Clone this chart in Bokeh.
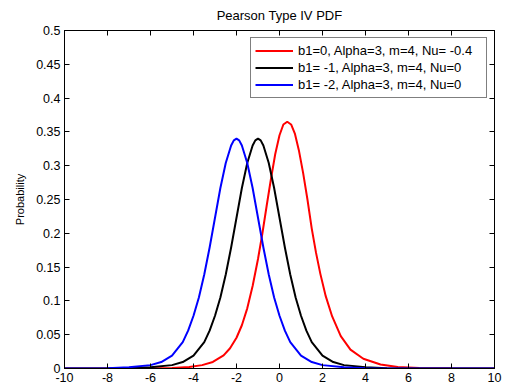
from bokeh.plotting import figure
from bokeh.models import (Range1d, FixedTicker, LinearAxis, Legend, LegendItem)
from bokeh.embed import file_html
from bokeh.resources import INLINE

# Pearson Type IV densities, sampled
red_x = [-10, -8, -6, -5, -4.2, -3.6, -3.1, -2.6, -2.3, -2.0, -1.75, -1.5, -1.25,
         -1.0, -0.8, -0.6, -0.4, -0.2, 0.0, 0.18, 0.36, 0.54, 0.72, 0.9, 1.1, 1.3,
         1.5, 1.7, 1.9, 2.15, 2.45, 2.85, 3.3, 3.9, 4.7, 5.5, 6.5, 8, 10]
red_y = [0.0, 0.0001, 0.0003, 0.0009, 0.0023, 0.005, 0.0097, 0.0195, 0.030, 0.0455,
         0.064, 0.089, 0.122, 0.162, 0.199, 0.240, 0.280, 0.317, 0.345, 0.361,
         0.365, 0.361, 0.347, 0.323, 0.289, 0.250, 0.207, 0.171, 0.140, 0.107,
         0.077, 0.048, 0.028, 0.0145, 0.006, 0.0022, 0.0008, 0.0002, 0.0]

black_x = [-10, -9, -7, -6, -5, -4.5, -4, -3.5, -3.25, -3, -2.75, -2.5, -2.25, -2,
           -1.75, -1.5, -1.25, -1.125, -1, -0.875, -0.75, -0.5, -0.25, 0, 0.25,
           0.5, 0.75, 1, 1.25, 1.5, 2, 2.5, 3, 4, 5, 7, 10]
black_y = [0.0, 0.0001, 0.0005, 0.0017, 0.005, 0.0095, 0.019, 0.039, 0.056, 0.078,
           0.105, 0.139, 0.179, 0.223, 0.267, 0.304, 0.330, 0.3375, 0.340, 0.3375,
           0.330, 0.304, 0.267, 0.223, 0.179, 0.139, 0.105, 0.078, 0.056, 0.039,
           0.019, 0.0095, 0.005, 0.0017, 0.0005, 0.0001, 0.0]

blue_x = [-10, -8, -7, -6, -5.5, -5, -4.5, -4.25, -4, -3.75, -3.5, -3.25, -3, -2.75,
          -2.5, -2.25, -2.125, -2, -1.875, -1.75, -1.5, -1.25, -1, -0.75, -0.5,
          -0.25, 0, 0.25, 0.5, 1, 1.5, 2, 3, 4, 6, 10]
blue_y = [0.0001, 0.0005, 0.0017, 0.005, 0.0095, 0.019, 0.039, 0.056, 0.078, 0.105,
          0.139, 0.179, 0.223, 0.267, 0.304, 0.330, 0.3375, 0.340, 0.3375, 0.330,
          0.304, 0.267, 0.223, 0.179, 0.139, 0.105, 0.078, 0.056, 0.039, 0.019,
          0.0095, 0.005, 0.0017, 0.0005, 0.0001, 0.0]

series_labels = ["b1=0, Alpha=3, m=4, Nu= -0.4",
                 "b1= -1, Alpha=3, m=4, Nu=0",
                 "b1= -2, Alpha=3, m=4, Nu=0"]

x_ticks = [-10, -8, -6, -4, -2, 0, 2, 4, 6, 8, 10]
x_tick_labels = ["-10", "-8", "-6", "-4", "-2", "0", "2", "4", "6", "8", "10"]
y_ticks = [0, 0.05, 0.1, 0.15, 0.2, 0.25, 0.3, 0.35, 0.4, 0.45, 0.5]
y_tick_labels = ["0", "0.05", "0.1", "0.15", "0.2", "0.25", "0.3", "0.35", "0.4",
                 "0.45", "0.5"]

FONT = "Liberation Sans"

p = figure(width=505, height=390, output_backend="svg", toolbar_location=None,
           x_range=Range1d(-10, 10), y_range=Range1d(0, 0.5),
           min_border_left=64, min_border_right=11, min_border_top=30,
           min_border_bottom=22)
p.background_fill_color = "white"
p.border_fill_color = "white"
p.grid.visible = False
p.outline_line_color = "black"
p.outline_line_width = 1

p.title.text = "Pearson Type IV PDF"
p.title.align = "center"
p.title.vertical_align = "top"
p.title.text_font = FONT
p.title.text_font_size = "13px"
p.title.text_font_style = "normal"
p.title.text_color = "black"
p.title.standoff = 12


def style_axis(ax, ticks, labels, show_labels=True):
    ax.ticker = FixedTicker(ticks=ticks)
    ax.major_label_overrides = {t: s for t, s in zip(ticks, labels)}
    ax.minor_tick_line_color = None
    ax.major_tick_in = 5
    ax.major_tick_out = 0
    ax.major_tick_line_color = "black"
    ax.axis_line_color = "black"
    ax.major_label_text_font = FONT
    ax.major_label_text_color = "black"
    if show_labels:
        ax.major_label_text_font_size = "12.5px"
        ax.major_label_standoff = 4
    else:
        ax.major_label_text_font_size = "0px"
        ax.major_label_standoff = 0


style_axis(p.xaxis[0], x_ticks, x_tick_labels)
style_axis(p.yaxis[0], y_ticks, y_tick_labels)
p.yaxis[0].axis_label = "Probability"
p.yaxis[0].axis_label_text_font = FONT
p.yaxis[0].axis_label_text_font_size = "11px"
p.yaxis[0].axis_label_text_font_style = "normal"
p.yaxis[0].axis_label_text_color = "black"
p.yaxis[0].axis_label_standoff = 7

top_ax = LinearAxis()
style_axis(top_ax, x_ticks, ["" for _ in x_ticks], show_labels=False)
p.add_layout(top_ax, "above")
right_ax = LinearAxis()
style_axis(right_ax, y_ticks, ["" for _ in y_ticks], show_labels=False)
p.add_layout(right_ax, "right")

r_red = p.line(red_x, red_y, line_color="#ff0000", line_width=2)
r_black = p.line(black_x, black_y, line_color="black", line_width=2)
r_blue = p.line(blue_x, blue_y, line_color="#0000ff", line_width=2)

legend = Legend(items=[LegendItem(label=series_labels[0], renderers=[r_red]),
                       LegendItem(label=series_labels[1], renderers=[r_black]),
                       LegendItem(label=series_labels[2], renderers=[r_blue])],
                location="top_right")
legend.margin = 7
legend.padding = 4
legend.spacing = 0
legend.glyph_width = 38
legend.glyph_height = 17
legend.label_height = 17
legend.label_width = 184
legend.label_standoff = 5
legend.label_text_font = FONT
legend.label_text_font_size = "13px"
legend.label_text_color = "black"
legend.border_line_color = "black"
legend.border_line_width = 1
legend.background_fill_color = "white"
legend.background_fill_alpha = 1
p.add_layout(legend, "center")

open("out.html", "w").write(file_html(p, INLINE))
